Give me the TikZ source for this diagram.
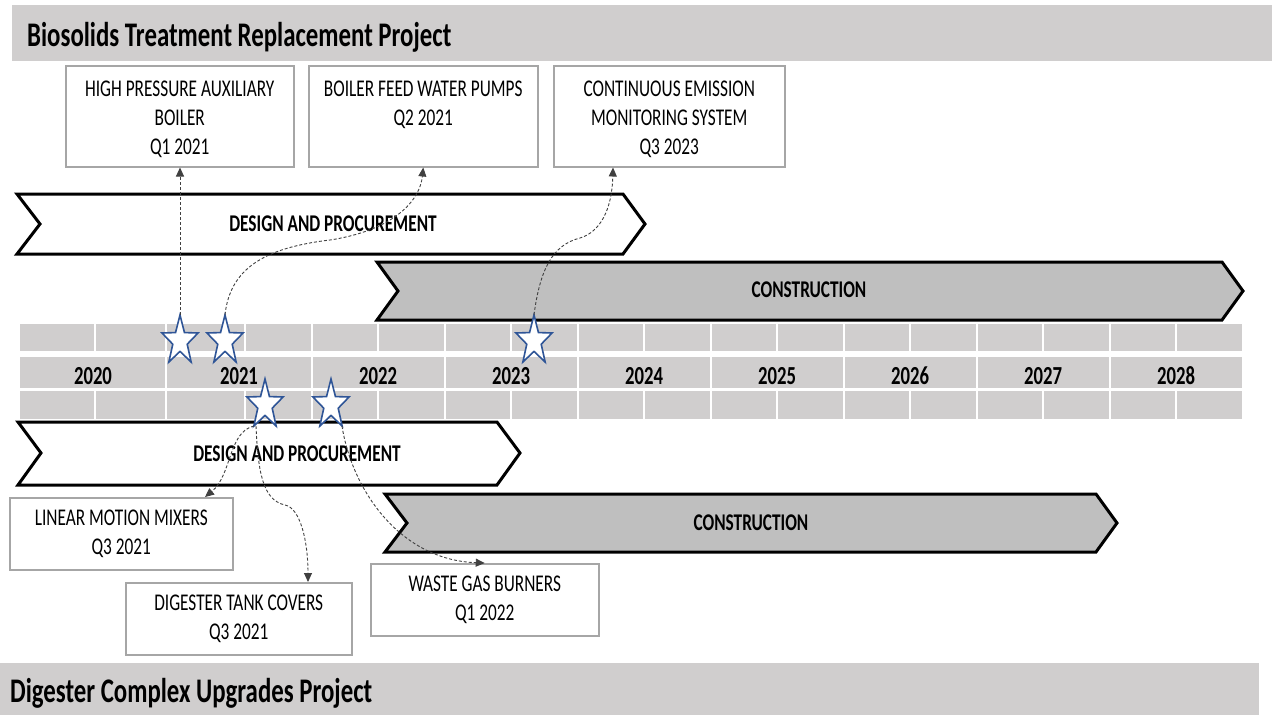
\documentclass[tikz,border=0pt]{standalone}
\usepackage{fontspec}
\setmainfont{Carlito}[FakeStretch=0.72]
\usetikzlibrary{arrows.meta,calc}
\definecolor{hdrgray}{HTML}{D0CECE}
\definecolor{congray}{HTML}{BFBFBF}
\definecolor{boxgray}{HTML}{A6A6A6}
\definecolor{starblue}{HTML}{2F5597}
\definecolor{dashgray}{HTML}{404040}
\newcommand{\drawstar}[1]{%
  \draw[starline, shift={(#1.center)}, xscale=0.73]
    (-90:26) -- (-54:10.4) -- (-18:26) -- (18:10.4) -- (54:26) -- (90:10.4)
    -- (126:26) -- (162:10.4) -- (198:26) -- (234:10.4) -- cycle;}
\newcommand{\topstrut}{\rule{0pt}{22pt}}
\newcommand{\midstrut}{\rule{0pt}{18pt}}
\begin{document}
\begin{tikzpicture}[x=1pt,y=-1pt,
  hdrtext/.style={anchor=base west, inner sep=0, font=\fontsize{34.5}{40}\selectfont\bfseries},
  msbox/.style={draw=boxgray, line width=1.5pt, fill=white, align=center, inner sep=0,
    anchor=north west, font=\fontsize{24}{29}\selectfont},
  chevW/.style={draw=black, line width=3pt, fill=white, line join=miter},
  chevG/.style={draw=black, line width=3pt, fill=congray, line join=miter},
  bandtext/.style={font=\fontsize{24}{29}\selectfont\bfseries, inner sep=0},
  yeartext/.style={font=\fontsize{26}{30}\selectfont\bfseries, inner sep=0},
  starnode/.style={minimum width=36pt, minimum height=52pt, inner sep=0},
  starline/.style={draw=starblue, line width=1.6pt, fill=white, line join=miter},
  gridline/.style={white, line width=2.5pt},
  conn/.style={draw=dashgray, line width=0.9pt, dash pattern=on 3pt off 2pt,
    -{Triangle[length=9pt,width=8pt]}},
]
\useasboundingbox (0,0) rectangle (1272,715);

% headers
\fill[hdrgray] (12,5) rectangle (1272,61);
\node[hdrtext] (h1) at (27,46) {Biosolids Treatment Replacement Project};
\fill[hdrgray] (0,663) rectangle (1259,715);
\node[hdrtext] (h2) at (10,702) {Digester Complex Upgrades Project};

% milestone boxes (top)
\node[msbox, minimum width=228pt, minimum height=101pt] (b1) at (65,65)
  {\topstrut HIGH PRESSURE AUXILIARY\\BOILER\\Q1 2021};
\node[msbox, minimum width=229pt, minimum height=101pt] (b2) at (308,65)
  {\midstrut BOILER FEED WATER PUMPS\\Q2 2021\\\mbox{}};
\node[msbox, minimum width=231pt, minimum height=101pt] (b3) at (553,65)
  {\topstrut CONTINUOUS EMISSION\\MONITORING SYSTEM\\Q3 2023};

% top phases
\draw[chevW] (17,194) -- (623,194) -- (645,224) -- (623,254) -- (17,254) -- (40,224) -- cycle;
\node[bandtext] (dp1) at (333,224) {DESIGN AND PROCUREMENT};
\draw[chevG] (377,262) -- (1222,262) -- (1243,291) -- (1222,320) -- (377,320) -- (398,291) -- cycle;
\node[bandtext] (cn1) at (809,290) {CONSTRUCTION};

% timeline grid
\fill[hdrgray] (20,324) rectangle (1242,351);
\fill[hdrgray] (20,357) rectangle (1242,388);
\fill[hdrgray] (20,391) rectangle (1242,419);
\foreach \x in {95,166,245,312,378,445,511,578,644,711,777,844,910,977,1043,1110,1176} {
  \draw[gridline] (\x,324) -- (\x,351);
  \draw[gridline] (\x,391) -- (\x,419);
}
\foreach \x in {166,312,445,578,711,844,977,1110} {
  \draw[gridline] (\x,357) -- (\x,388);
}
\foreach \yr/\x in {2020/93,2021/239,2022/378,2023/511,2024/644,2025/777,2026/910,2027/1043,2028/1176} {
  \node[yeartext] (y\yr) at (\x,376) {\yr};
}

% bottom phases
\draw[chevW] (18,422) -- (497,422) -- (520,453) -- (497,485) -- (18,485) -- (41,453) -- cycle;
\node[bandtext] (dp2) at (297,454) {DESIGN AND PROCUREMENT};
\draw[chevG] (385,494) -- (1096,494) -- (1117,523) -- (1096,552) -- (385,552) -- (407,523) -- cycle;
\node[bandtext] (cn2) at (751,523) {CONSTRUCTION};

% milestone boxes (bottom)
\node[msbox, minimum width=223pt, minimum height=72pt] (b4) at (9,497)
  {LINEAR MOTION MIXERS\\Q3 2021};
\node[msbox, minimum width=226pt, minimum height=72pt] (b5) at (125,582)
  {DIGESTER TANK COVERS\\Q3 2021};
\node[msbox, minimum width=228pt, minimum height=72pt] (b6) at (370,563)
  {WASTE GAS BURNERS\\Q1 2022};

% stars
\node[starnode] (s1) at (180,341) {};
\node[starnode] (s2) at (225,341) {};
\node[starnode] (s3) at (534,341) {};
\node[starnode] (s4) at (265,405) {};
\node[starnode] (s5) at (331,405) {};
\foreach \s in {s1,s2,s3,s4,s5} {\drawstar{\s}}

% connectors
\coordinate (b3in) at ($(b3.south west)+(60,0)$);
\coordinate (b4in) at ($(b4.north west)+(196,0)$);
\coordinate (b5in) at ($(b5.north west)+(183,0)$);
\draw[conn] (s1.north) -- (s1.north |- b1.south);
\draw[conn] (s2.north) .. controls (230,270) and (262,248) .. (330,240)
  .. controls (395,230) and (420,200) .. (b2.south);
\draw[conn] (s3.north) .. controls (540,270) and (552,245) .. (580,238)
  .. controls (600,232) and (612,210) .. (b3in);
\draw[conn] ($(s4.center)+(-11,21)$) .. controls (228,432) and (232,475) .. (b4in);
\draw[conn] ($(s4.center)+(-9,21)$) .. controls (258,470) and (262,500) .. (285,505)
  .. controls (300,508) and (308,540) .. (b5in);
\draw[conn] ($(s5.center)+(11,21)$) .. controls (352,490) and (400,560) .. (b6.north);
\end{tikzpicture}
\end{document}
